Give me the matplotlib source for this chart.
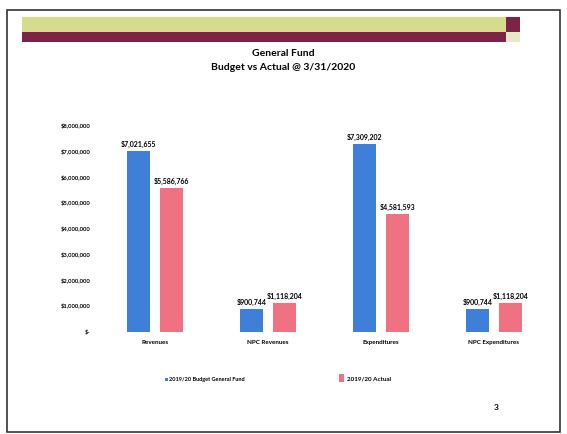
import numpy as np
import matplotlib.pyplot as plt
from matplotlib.patches import Rectangle

categories = ["Revenues", "NPC Revenues", "Expenditures", "NPC Expenditures"]
budget = [7021655, 900744, 7309202, 900744]
actual = [5586766, 1118204, 4581593, 1118204]
budget_labels = ["$7,021,655", "$900,744", "$7,309,202", "$900,744"]
actual_labels = ["$5,586,766", "$1,118,204", "$4,581,593", "$1,118,204"]
yticks = [0, 1000000, 2000000, 3000000, 4000000, 5000000, 6000000, 7000000, 8000000]
ytick_labels = ["$-", "$1,000,000", "$2,000,000", "$3,000,000", "$4,000,000",
                "$5,000,000", "$6,000,000", "$7,000,000", "$8,000,000"]

plt.rcParams["font.family"] = ["Lato", "DejaVu Sans"]

blue = "#3f7fd8"
red = "#ee7282"

fig = plt.figure(figsize=(5.67, 4.34), dpi=100)
W, H = 567, 434

# slide frame and header banner
fig.add_artist(Rectangle((7 / W, 1 - 432 / H), 553 / W, 422 / H, transform=fig.transFigure,
                         fill=False, edgecolor="#333333", linewidth=1.2))
fig.add_artist(Rectangle((22 / W, 1 - 32 / H), 484 / W, 15 / H, transform=fig.transFigure,
                         facecolor="#d5dd8c", edgecolor="none"))
fig.add_artist(Rectangle((22 / W, 1 - 42 / H), 484 / W, 10 / H, transform=fig.transFigure,
                         facecolor="#7d2347", edgecolor="none"))
fig.add_artist(Rectangle((506 / W, 1 - 32 / H), 14 / W, 15 / H, transform=fig.transFigure,
                         facecolor="#7d2347", edgecolor="none"))
fig.add_artist(Rectangle((506 / W, 1 - 42 / H), 14 / W, 10 / H, transform=fig.transFigure,
                         facecolor="#e6e8c8", edgecolor="none"))

fig.text(0.5, 1 - 53 / H, "General Fund", ha="center", va="center", fontsize=7.5, fontweight="bold")
fig.text(0.5, 1 - 67 / H, "Budget vs Actual @ 3/31/2020", ha="center", va="center",
         fontsize=7.5, fontweight="bold")
fig.text(496 / W, 1 - 408 / H, "3", ha="center", va="center", fontsize=6, fontweight="bold")

ax = fig.add_axes([98.5 / W, 1 - 332 / H, 452 / W, 206 / H])
x = np.arange(len(categories))
w = 0.205
b1 = ax.bar(x - 0.145, budget, w, color=blue, label="2019/20 Budget General Fund")
b2 = ax.bar(x + 0.145, actual, w, color=red, label="2019/20 Actual")

for i in range(len(categories)):
    ax.text(x[i] - 0.145, budget[i] + 120000, budget_labels[i], ha="center", va="bottom",
            fontsize=5, fontweight="bold")
    ax.text(x[i] + 0.145, actual[i] + 120000, actual_labels[i], ha="center", va="bottom",
            fontsize=5, fontweight="bold")

ax.set_xlim(-0.5, 3.5)
ax.set_ylim(0, 8000000)
ax.set_yticks(yticks)
ax.set_yticklabels(ytick_labels, fontsize=4.2, fontweight="bold")
ax.set_xticks(x)
ax.set_xticklabels(categories, fontsize=4.5, fontweight="bold")
ax.tick_params(length=0, pad=6)
for s in ax.spines.values():
    s.set_visible(False)

# the two legend entries sit apart on the slide
leg1 = fig.legend(handles=[b1], loc="center left", bbox_to_anchor=(162 / W, 1 - 380 / H),
                  frameon=False, handlelength=0.5, handleheight=0.6, handletextpad=0.3,
                  borderpad=0, prop={"weight": "bold", "size": 4})
leg2 = fig.legend(handles=[b2], loc="center left", bbox_to_anchor=(336 / W, 1 - 378 / H),
                  frameon=False, handlelength=0.7, handleheight=1.8, handletextpad=0.6,
                  borderpad=0, prop={"weight": "bold", "size": 4.5})

fig.savefig("out.png", dpi=100)
